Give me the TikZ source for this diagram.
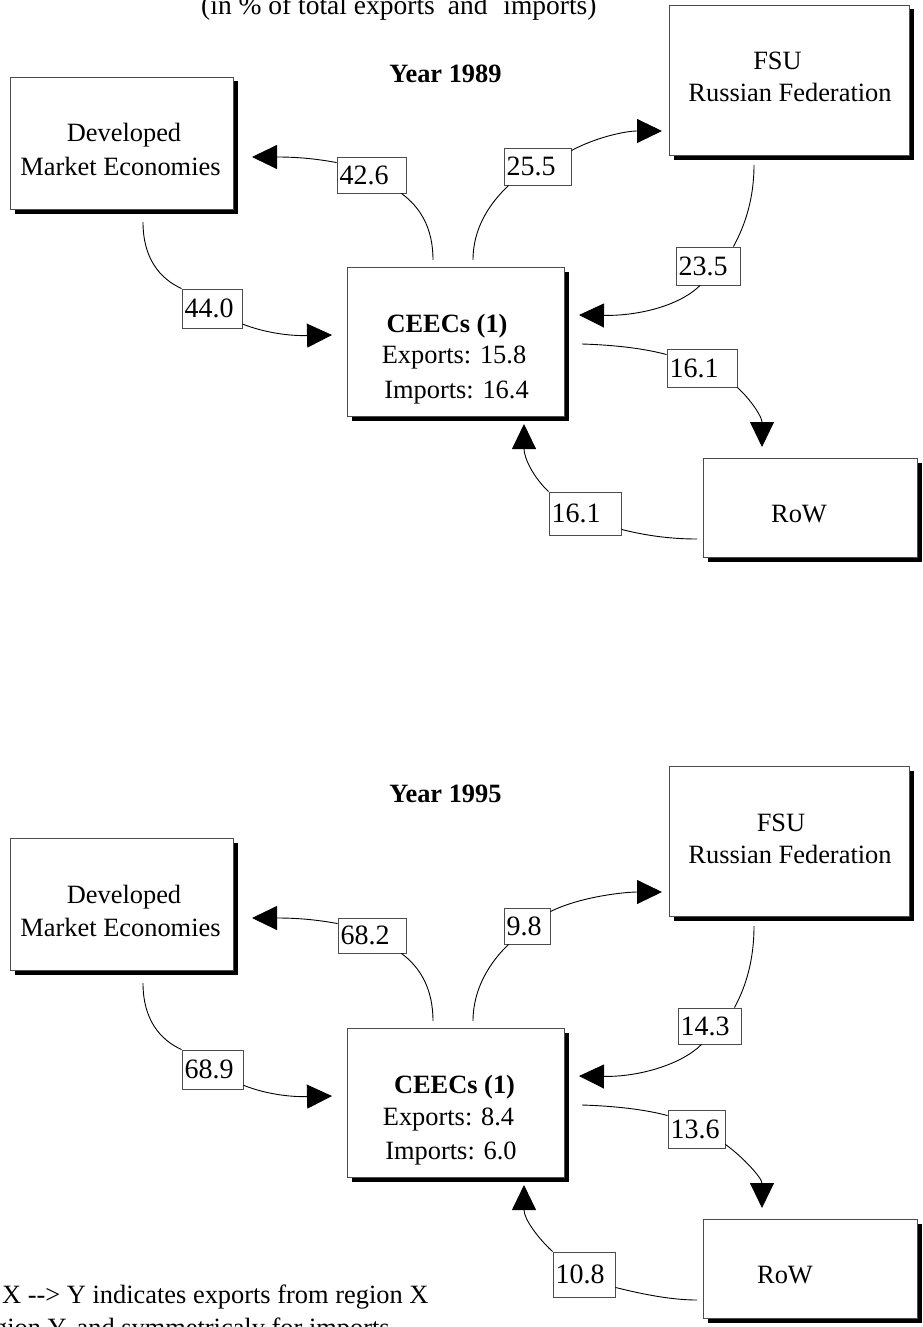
\documentclass[tikz,border=0pt]{standalone}
\usepackage{fontspec}
\setmainfont{Liberation Serif}
\usetikzlibrary{arrows.meta,shadows}
\newcommand\bodyfont{\fontsize{26.4}{33}\selectfont}
\newcommand\labfont{\fontsize{28}{33}\selectfont}
\tikzset{
  region/.style={draw=black!70, line width=0.9pt, fill=white, inner sep=0pt,
     drop shadow={shadow xshift=4.5pt, shadow yshift=-4.5pt, fill=black, opacity=1}},
  rtext/.style={font=\bodyfont, anchor=base, inner sep=0pt},
  lab/.style={draw=black!70, line width=0.9pt, fill=white, font=\labfont,
     inner xsep=2.5pt, inner ysep=0pt, align=left},
  flow/.style={line width=0.9pt, draw=black},
  tip/.style={-{Triangle[length=25pt,width=24pt]}},
}
\begin{document}
\begin{tikzpicture}[x=1pt,y=-1pt]
\path[use as bounding box, clip] (0,0) rectangle (922,1327);

% ---------- titles ----------
\node[font=\fontsize{27.5}{33}\selectfont, anchor=base west, inner sep=0pt] (subtitle) at (201,15)
  {(in \% of total exports\hspace{6pt} and\hspace{9pt} imports)};
\node[rtext, font=\bodyfont\bfseries] (yearA) at (445.5,83) {Year 1989};
\node[rtext, font=\bodyfont\bfseries] (yearB) at (445.5,802) {Year 1995};

% ================= panel 1989 =================
\node[region, minimum width=223pt, minimum height=132pt] (dmeA) at (121.5,143) {};
\node[rtext] (dmeAt1) at (124,142) {Developed};
\node[rtext] (dmeAt2) at (120.5,175) {Market Economies};
\node[region, minimum width=240pt, minimum height=150pt] (fsuA) at (789,80) {};
\node[rtext] (fsuAt1) at (777.5,70) {FSU};
\node[rtext] (fsuAt2) at (790,102) {Russian Federation};
\node[region, minimum width=217pt, minimum height=149pt] (ceecA) at (455.5,341.5) {};
\node[rtext, font=\bodyfont\bfseries] (ceecAt1) at (447,332) {CEECs (1)};
\node[rtext] (ceecAt2) at (454,363) {Exports: 15.8};
\node[rtext] (ceecAt3) at (456.5,398) {Imports: 16.4};
\node[region, minimum width=214pt, minimum height=99pt] (rowA) at (810,507.5) {};
\node[rtext] (rowAt) at (799,522) {RoW};

\node[lab, text width=64pt, minimum height=36pt] (l426A) at (371.5,175) {42.6};
\node[lab, text width=62pt, minimum height=37pt] (l255A) at (537.5,166.5) {25.5};
\node[lab, text width=55pt, minimum height=39pt] (l440A) at (212,308.5) {44.0};
\node[lab, text width=59pt, minimum height=38pt] (l235A) at (708,266) {23.5};
\node[lab, text width=65pt, minimum height=38pt] (l161aA) at (702,368) {16.1};
\node[lab, text width=67pt, minimum height=43pt] (l161bA) at (585,513.5) {16.1};

\coordinate (dA1) at (143,222);
\coordinate (cA1) at (332,335);
\coordinate (cA2) at (433,260);
\coordinate (dA2) at (252,157);
\coordinate (cA3) at (473,260);
\coordinate (fA1) at (662,131);
\coordinate (fA2) at (754,165);
\coordinate (cA4) at (579,315);
\coordinate (cA5) at (582,344);
\coordinate (rA1) at (762,447);
\coordinate (rA2) at (697,539);
\coordinate (cA6) at (524,424);

\draw[flow] (dA1) .. controls +(0,36) and +(-22,-10) .. (l440A.north west);
\draw[flow,tip] (l440A.-27) .. controls +(23,9) and +(-42,1) .. (cA1);
\draw[flow] (cA2) .. controls +(0,-32) and +(19,14) .. ([xshift=-5pt]l426A.south east);
\draw[flow,tip] ([yshift=-6pt]l426A.north west) .. controls +(-27,-5) and +(38,0) .. (dA2);
\draw[flow] (cA3) .. controls +(0,-32) and +(-19,18) .. ([xshift=5pt]l255A.south west);
\draw[flow,tip] ([yshift=-3pt]l255A.north east) .. controls +(24,-13) and +(-37,0) .. (fA1);
\draw[flow] (fA2) .. controls +(0,33) and +(12,-22) .. ([xshift=-7pt]l235A.north east);
\draw[flow,tip] ([xshift=-8pt]l235A.south) .. controls +(-20,20) and +(60,1) .. (cA4);
\draw[flow] (cA5) .. controls +(33,1) and +(-22,-6) .. ([yshift=-6pt]l161aA.north west);
\draw[flow,tip] (l161aA.south east) .. controls +(14,13) and +(0,-30) .. (rA1);
\draw[flow] (rA2) .. controls +(-27,0) and +(24,6) .. ([yshift=6pt]l161bA.south east);
\draw[flow,tip] (l161bA.north west) .. controls +(-15,-14) and +(0,34) .. (cA6);

% ================= panel 1995 =================
\begin{scope}[shift={(0,761)}]
\node[region, minimum width=223pt, minimum height=132pt] (dmeB) at (121.5,143) {};
\node[rtext] (dmeBt1) at (124,142) {Developed};
\node[rtext] (dmeBt2) at (120.5,175) {Market Economies};
\node[region, minimum width=240pt, minimum height=150pt] (fsuB) at (789,80) {};
\node[rtext] (fsuBt1) at (781,70) {FSU};
\node[rtext] (fsuBt2) at (790,102) {Russian Federation};
\node[region, minimum width=217pt, minimum height=149pt] (ceecB) at (455.5,341.5) {};
\node[rtext, font=\bodyfont\bfseries] (ceecBt1) at (454.5,332) {CEECs (1)};
\node[rtext] (ceecBt2) at (448.5,364) {Exports: 8.4};
\node[rtext] (ceecBt3) at (451,398) {Imports: 6.0};
\node[region, minimum width=214pt, minimum height=99pt] (rowB) at (810,507.5) {};
\node[rtext] (rowBt) at (785,522) {RoW};

\node[lab, text width=63pt, minimum height=35pt] (l682B) at (372,174.5) {68.2};
\node[lab, text width=41pt, minimum height=36pt] (l98B) at (527,165) {9.8};
\node[lab, text width=56pt, minimum height=39pt] (l689B) at (212.5,308.5) {68.9};
\node[lab, text width=58pt, minimum height=36pt] (l143B) at (709.5,265) {14.3};
\node[lab, text width=52pt, minimum height=38pt] (l136B) at (696.5,368) {13.6};
\node[lab, text width=57pt, minimum height=45pt] (l108B) at (584,513.5) {10.8};

\coordinate (dB1) at (143,222);
\coordinate (cB1) at (332,335);
\coordinate (cB2) at (433,260);
\coordinate (dB2) at (252,157);
\coordinate (cB3) at (473,260);
\coordinate (fB1) at (662,131);
\coordinate (fB2) at (754,165);
\coordinate (cB4) at (579,315);
\coordinate (cB5) at (582,344);
\coordinate (rB1) at (762,447);
\coordinate (rB2) at (697,539);
\coordinate (cB6) at (524,424);

\draw[flow] (dB1) .. controls +(0,36) and +(-22,-10) .. (l689B.north west);
\draw[flow,tip] (l689B.-27) .. controls +(23,9) and +(-42,1) .. (cB1);
\draw[flow] (cB2) .. controls +(0,-32) and +(19,14) .. ([xshift=-5pt]l682B.south east);
\draw[flow,tip] ([yshift=-6pt]l682B.north west) .. controls +(-27,-5) and +(38,0) .. (dB2);
\draw[flow] (cB3) .. controls +(0,-32) and +(-19,18) .. ([xshift=5pt]l98B.south west);
\draw[flow,tip] ([yshift=-4pt]l98B.north east) .. controls +(30,-15) and +(-37,0) .. (fB1);
\draw[flow] (fB2) .. controls +(0,33) and +(12,-22) .. ([xshift=-7pt]l143B.north east);
\draw[flow,tip] ([xshift=-8pt]l143B.south) .. controls +(-20,20) and +(60,1) .. (cB4);
\draw[flow] (cB5) .. controls +(33,1) and +(-22,-6) .. ([yshift=-6pt]l136B.north west);
\draw[flow,tip] ([yshift=4pt]l136B.south east) .. controls +(18,13) and +(0,-30) .. (rB1);
\draw[flow] (rB2) .. controls +(-27,0) and +(24,6) .. ([yshift=10pt]l108B.south east);
\draw[flow,tip] (l108B.north west) .. controls +(-15,-14) and +(0,34) .. (cB6);
\end{scope}

% ---------- note ----------
\node[font=\bodyfont, anchor=base west, inner sep=0pt] (noteA) at (2,1303)
  {X -\kern0pt-\kern0pt> Y indicates exports from region X};
\node[font=\bodyfont, anchor=base west, inner sep=0pt] (noteB) at (-6,1336)
  {gion Y, and symmetricaly for imports};
\end{tikzpicture}
\end{document}
